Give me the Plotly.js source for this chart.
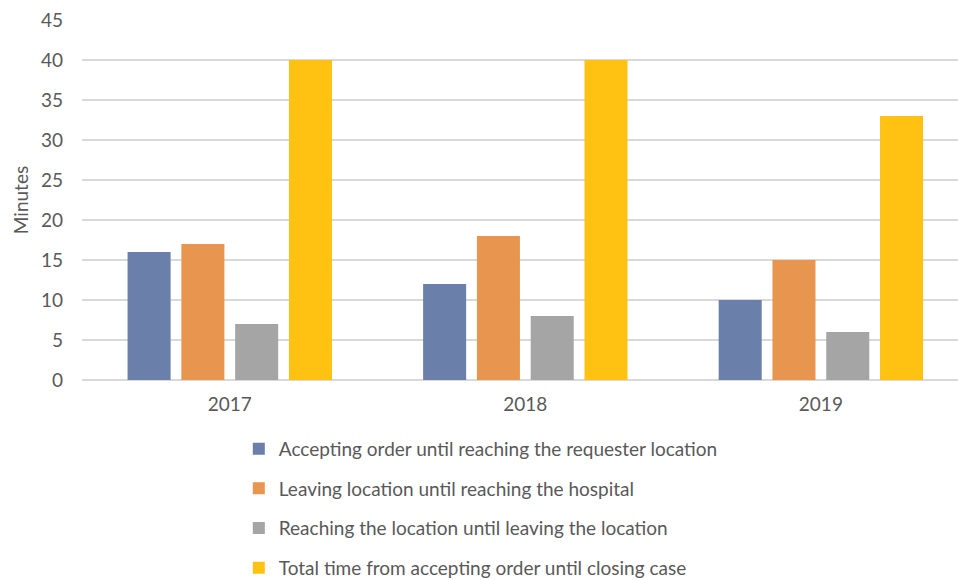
<!DOCTYPE html>
<html><head><meta charset="utf-8">
<script src="https://cdn.plot.ly/plotly-3.0.1.min.js"></script>
<style>body{margin:0;background:#fff}#chart{width:958px;height:580px}</style>
</head><body><div id="chart"></div>
<script>
const years = ['2017', '2018', '2019'];
const seriesNames = [
  'Accepting order until reaching the requester location',
  'Leaving location until reaching the hospital',
  'Reaching the location until leaving the location',
  'Total time from accepting order until closing case'
];
const acceptToReach = [16, 12, 10];
const leaveToHospital = [17, 18, 15];
const reachToLeave = [7, 8, 6];
const totalTime = [40, 40, 33];
const colors = ['#6A7FAA', '#E8964F', '#A5A5A5', '#FFC112'];

const values = [acceptToReach, leaveToHospital, reachToLeave, totalTime];
const traces = values.map((v, i) => ({
  type: 'bar', x: years, y: v, name: seriesNames[i],
  legendgroup: 'g' + i,
  marker: {color: colors[i]},
  hoverinfo: 'x+y+name'
}));

const font = {family: 'Lato, "Open Sans", sans-serif', color: '#595959', size: 19};
const layout = {
  width: 958, height: 580,
  margin: {l: 82, r: 0, t: 20, b: 200},
  paper_bgcolor: '#fff', plot_bgcolor: '#fff',
  font: font,
  barmode: 'group', bargap: 0.272, bargroupgap: 0.2,
  xaxis: {type: 'category', range: [-0.5, 2.464], showgrid: false, zeroline: false,
          showline: false, ticks: '', tickfont: {size: 19, color: '#595959'}, ticklabelstandoff: 11},
  yaxis: {range: [0, 45], dtick: 5, showgrid: true, gridcolor: '#D9D9D9', gridwidth: 1.3,
          zeroline: true, zerolinecolor: '#D9D9D9', zerolinewidth: 1.3, showline: false,
          ticks: '', tickfont: {size: 19, color: '#595959'}, ticklabelstandoff: 18,
          title: {text: 'Minutes', font: {size: 19, color: '#595959'}, standoff: 7}},
  showlegend: true,
  legend: {orientation: 'v', x: 0.179, xanchor: 'left', xref: 'paper',
           y: 0.259, yanchor: 'top', yref: 'container',
           font: {size: 19, color: '#595959'}, tracegroupgap: 12, traceorder: 'grouped',
           itemwidth: 30, bgcolor: 'rgba(0,0,0,0)'}
};
Plotly.newPlot('chart', traces, layout, {displayModeBar: false, staticPlot: true});
</script></body></html>
